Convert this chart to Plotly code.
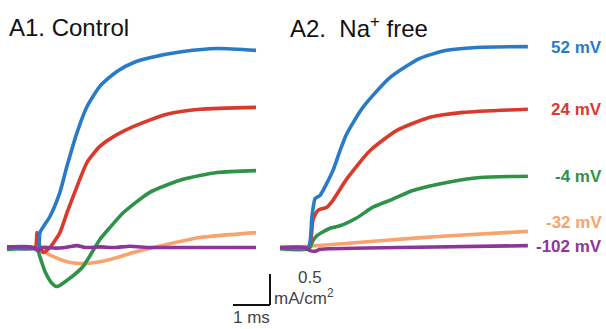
import plotly.graph_objects as go

# ---------------- data (time in ms, current in mA/cm^2) ----------------
voltages = ["52 mV", "24 mV", "-4 mV", "-32 mV", "-102 mV"]
colors = ["#2a7bc6", "#d93a2c", "#2f9249", "#f7a36d", "#8d369a"]

# A1. Control
ctrl_blue_t = [0, 0.84, 0.89, 1.16, 1.43, 1.62, 1.89, 2.16, 2.51, 2.97, 3.41, 3.86, 4.76, 5.68, 6.73]
ctrl_blue_i = [0, 0, 0.24, 0.50, 0.89, 1.31, 1.85, 2.27, 2.60, 2.84, 2.98, 3.06, 3.16, 3.21, 3.18]

ctrl_red_t = [0, 0.76, 0.81, 0.89, 0.97, 1.16, 1.43, 1.62, 1.89, 2.16, 2.51, 2.97, 3.41, 4.32, 5.22, 6.73]
ctrl_red_i = [0, 0, 0.24, 0.02, -0.08, 0, 0.24, 0.56, 0.98, 1.37, 1.63, 1.82, 1.95, 2.15, 2.23, 2.26]

ctrl_green_t = [0, 0.81, 0.89, 1.03, 1.22, 1.35, 1.62, 2.05, 2.51, 2.78, 3.14, 3.86, 4.76, 5.68, 6.73]
ctrl_green_i = [-0.03, -0.03, -0.15, -0.39, -0.58, -0.63, -0.53, -0.31, 0.13, 0.32, 0.56, 0.89, 1.10, 1.21, 1.24]

ctrl_orange_t = [0, 0.84, 1.03, 1.30, 1.62, 1.97, 2.51, 3.05, 3.41, 4.32, 5.22, 6.73]
ctrl_orange_i = [-0.02, 0, -0.08, -0.16, -0.23, -0.26, -0.23, -0.15, -0.08, 0.05, 0.16, 0.24]

ctrl_purple_t = [0, 0.62, 0.76, 0.84, 0.97, 1.30, 1.57, 1.89, 2.11, 2.51, 2.92, 3.32, 3.86, 4.54, 5.22, 6.73]
ctrl_purple_i = [0.01, 0.01, -0.02, -0.05, 0, -0.01, 0, 0.03, 0, 0.01, 0, 0.02, 0, 0, 0, 0]

# A2. Na+ free
na_blue_t = [0, 0.76, 0.86, 0.95, 1.08, 1.43, 1.62, 1.81, 2.24, 2.97, 3.78, 4.51, 5.41, 6.70]
na_blue_i = [0, 0, 0.48, 0.79, 0.84, 1.24, 1.56, 1.84, 2.26, 2.74, 3.05, 3.18, 3.23, 3.24]

na_red_t = [0, 0.78, 0.89, 1.03, 1.27, 1.43, 1.81, 2.43, 3.16, 4.05, 4.95, 6.70]
na_red_i = [0, 0, 0.44, 0.60, 0.65, 0.76, 1.11, 1.56, 1.89, 2.10, 2.18, 2.23]

na_green_t = [0, 0.78, 0.89, 1.00, 1.35, 1.62, 2.08, 2.51, 2.97, 3.59, 4.51, 5.41, 6.70]
na_green_i = [-0.02, -0.02, 0.11, 0.19, 0.31, 0.35, 0.48, 0.65, 0.76, 0.92, 1.05, 1.13, 1.15]

na_orange_t = [0, 0.78, 2.70, 4.59, 6.70]
na_orange_i = [0, 0.02, 0.11, 0.19, 0.26]

na_purple_t = [0, 0.68, 0.81, 0.95, 1.08, 1.35, 3.24, 6.70]
na_purple_i = [0, 0, -0.05, -0.06, -0.03, -0.02, 0, 0.03]

label_i = [3.23, 2.22, 1.14, 0.40, 0.01]

# scale bar sizes
bar_ms = 1.0
bar_current = 0.5

# ---------------- figure ----------------
W, H = 606, 329
fig = go.Figure()

control = [(ctrl_orange_t, ctrl_orange_i, 3), (ctrl_green_t, ctrl_green_i, 2),
           (ctrl_red_t, ctrl_red_i, 1), (ctrl_blue_t, ctrl_blue_i, 0),
           (ctrl_purple_t, ctrl_purple_i, 4)]
nafree = [(na_orange_t, na_orange_i, 3), (na_green_t, na_green_i, 2),
          (na_red_t, na_red_i, 1), (na_blue_t, na_blue_i, 0),
          (na_purple_t, na_purple_i, 4)]

for t, i, k in control:
    fig.add_trace(go.Scatter(x=t, y=i, mode="lines", xaxis="x", yaxis="y",
                             line=dict(color=colors[k], width=3.6, shape="spline", smoothing=0.6),
                             showlegend=False, hoverinfo="skip"))
for t, i, k in nafree:
    fig.add_trace(go.Scatter(x=t, y=i, mode="lines", xaxis="x2", yaxis="y",
                             line=dict(color=colors[k], width=3.6, shape="spline", smoothing=0.6),
                             showlegend=False, hoverinfo="skip"))

# scale bar (in control-panel data units)
bx0, by0 = 6.108, -0.927
fig.add_shape(type="line", xref="x", yref="y", x0=bx0, x1=bx0 + bar_ms, y0=by0, y1=by0,
              line=dict(color="#111", width=2))
fig.add_shape(type="line", xref="x", yref="y", x0=bx0 + bar_ms, x1=bx0 + bar_ms,
              y0=by0, y1=by0 + bar_current, line=dict(color="#111", width=2))

sfont = dict(family="Liberation Sans, Arial", size=17, color="#444")
annotations = [
    dict(x=bx0 + bar_ms / 2, y=by0, xref="x", yref="y", text="1 ms", showarrow=False,
         xanchor="center", yanchor="top", yshift=-1, font=sfont),
    dict(x=bx0 + bar_ms, y=by0 + bar_current, xref="x", yref="y", text="0.5", showarrow=False,
         xanchor="left", yanchor="middle", xshift=26, yshift=-4, font=sfont),
    dict(x=bx0 + bar_ms, y=by0 + bar_current, xref="x", yref="y", text="mA/cm<sup>2</sup>",
         showarrow=False, xanchor="left", yanchor="middle", xshift=2, yshift=-23, font=sfont),
    dict(x=7 / W, y=1 - 27 / H, xref="paper", yref="paper", text="A1. Control", showarrow=False,
         xanchor="left", yanchor="middle",
         font=dict(family="Liberation Sans, Arial", size=24, color="#111")),
    dict(x=288 / W, y=1 - 27 / H, xref="paper", yref="paper", text="A2.  Na<sup>+</sup> free",
         showarrow=False, xanchor="left", yanchor="middle",
         font=dict(family="Liberation Sans, Arial", size=24, color="#111")),
]
for v, yv, c in zip(voltages, label_i, colors):
    annotations.append(dict(x=604 / W, y=yv, xref="paper", yref="y", text="<b>%s</b>" % v,
                            showarrow=False, xanchor="right", yanchor="middle",
                            font=dict(family="Liberation Sans, Arial", size=17, color=c)))

axis_common = dict(visible=False, showgrid=False, zeroline=False, fixedrange=True)
fig.update_layout(
    width=W, height=H,
    margin=dict(l=0, r=0, t=0, b=0),
    paper_bgcolor="white", plot_bgcolor="white",
    xaxis=dict(domain=[0, 280 / W], range=[-7 / 37, 273 / 37], **axis_common),
    xaxis2=dict(domain=[280 / W, 1], range=[0, 326 / 37], **axis_common),
    yaxis=dict(domain=[0, 1], range=[(247.5 - 329) / 62, 247.5 / 62], **axis_common),
    annotations=annotations,
    showlegend=False,
)

fig.write_html("out.html")
